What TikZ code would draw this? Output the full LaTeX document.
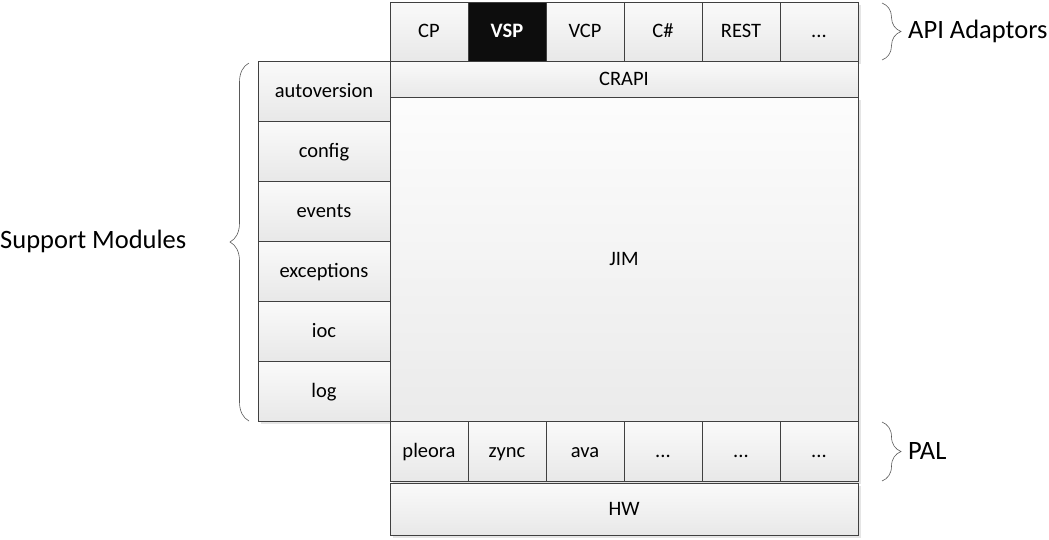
\documentclass[tikz,border=0pt]{standalone}
\usepackage{fontspec}
\setmainfont{Carlito}
\usetikzlibrary{decorations.pathreplacing,positioning}
\begin{document}
\begin{tikzpicture}[x=1pt,y=-1pt,
  cell/.style={draw=black!75,line width=0.8pt,top color=black!2,bottom color=black!9,
    font=\fontsize{20.5}{24}\selectfont},
  lbl/.style={draw=none,text height=12.5pt,text depth=0pt},
  shadowbox/.style={fill=black!10},
  brc/.style={decorate,decoration={brace,amplitude=19pt},draw=black!65,line width=0.6pt},
  side/.style={font=\fontsize{26.5}{30}\selectfont,anchor=west,inner sep=0pt}]
\useasboundingbox (0,0) rectangle (1049,539);
% shadows
\fill[shadowbox] (393,5) rectangle (861,64);
\fill[shadowbox] (393,100) rectangle (861,424);
\fill[shadowbox] (261,64) rectangle (393,424);
\fill[shadowbox] (393,424) rectangle (861,484);
\fill[shadowbox] (393,486) rectangle (861,538);
% top row
\draw[cell] (390,2) rectangle (468,61) node[midway,lbl] (apicp) {CP};
\draw[draw=black!75,line width=0.8pt,fill=black!95] (468,2) rectangle (546,61) node[midway,lbl,text=white,font=\fontsize{20.5}{24}\selectfont\bfseries] (apivsp) {VSP};
\draw[cell] (546,2) rectangle (624,61) node[midway,lbl] (apivcp) {VCP};
\draw[cell] (624,2) rectangle (702,61) node[midway,lbl] (apics) {C\#};
\draw[cell] (702,2) rectangle (780,61) node[midway,lbl] (apirest) {REST};
\draw[cell] (780,2) rectangle (858,61) node[midway,lbl] (apimore) {...};
% CRAPI
\draw[cell] (390,61) rectangle (858,97) node[midway,lbl] (crapi) {CRAPI};
% JIM
\draw[cell,top color=black!1,bottom color=black!8] (390,97) rectangle (858,421) node[midway,lbl] (jim) {JIM};
% support modules
\draw[cell] (258,61) rectangle (390,121) node[midway,lbl] (autoversion) {autoversion};
\draw[cell] (258,121) rectangle (390,181) node[midway,lbl] (config) {config};
\draw[cell] (258,181) rectangle (390,241) node[midway,lbl] (events) {events};
\draw[cell] (258,241) rectangle (390,301) node[midway,lbl] (exceptions) {exceptions};
\draw[cell] (258,301) rectangle (390,361) node[midway,lbl] (ioc) {ioc};
\draw[cell] (258,361) rectangle (390,421) node[midway,lbl] (log) {log};
% PAL row
\draw[cell] (390,421) rectangle (468,481) node[midway,lbl] (pleora) {pleora};
\draw[cell] (468,421) rectangle (546,481) node[midway,lbl] (zync) {zync};
\draw[cell] (546,421) rectangle (624,481) node[midway,lbl] (ava) {ava};
\draw[cell] (624,421) rectangle (702,481) node[midway,lbl] (pa) {...};
\draw[cell] (702,421) rectangle (780,481) node[midway,lbl] (pb) {...};
\draw[cell] (780,421) rectangle (858,481) node[midway,lbl] (pc) {...};
% HW
\draw[cell] (390,483) rectangle (858,535) node[midway,lbl] (hw) {HW};
% braces
\coordinate (b1a) at (882,3);
\coordinate (b1b) at (882,60);
\draw[brc] (b1a) -- (b1b);
\node[side] (apilbl) at (908,31) {API Adaptors};
\coordinate (b2a) at (882,422);
\coordinate (b2b) at (882,481);
\draw[brc] (b2a) -- (b2b);
\node[side] (pal) at (908,451) {PAL};
\coordinate (b3a) at (249,421);
\coordinate (b3b) at (249,63);
\draw[brc] (b3a) -- (b3b);
\node[side] (support) at (0,241) {Support Modules};
\end{tikzpicture}
\end{document}
